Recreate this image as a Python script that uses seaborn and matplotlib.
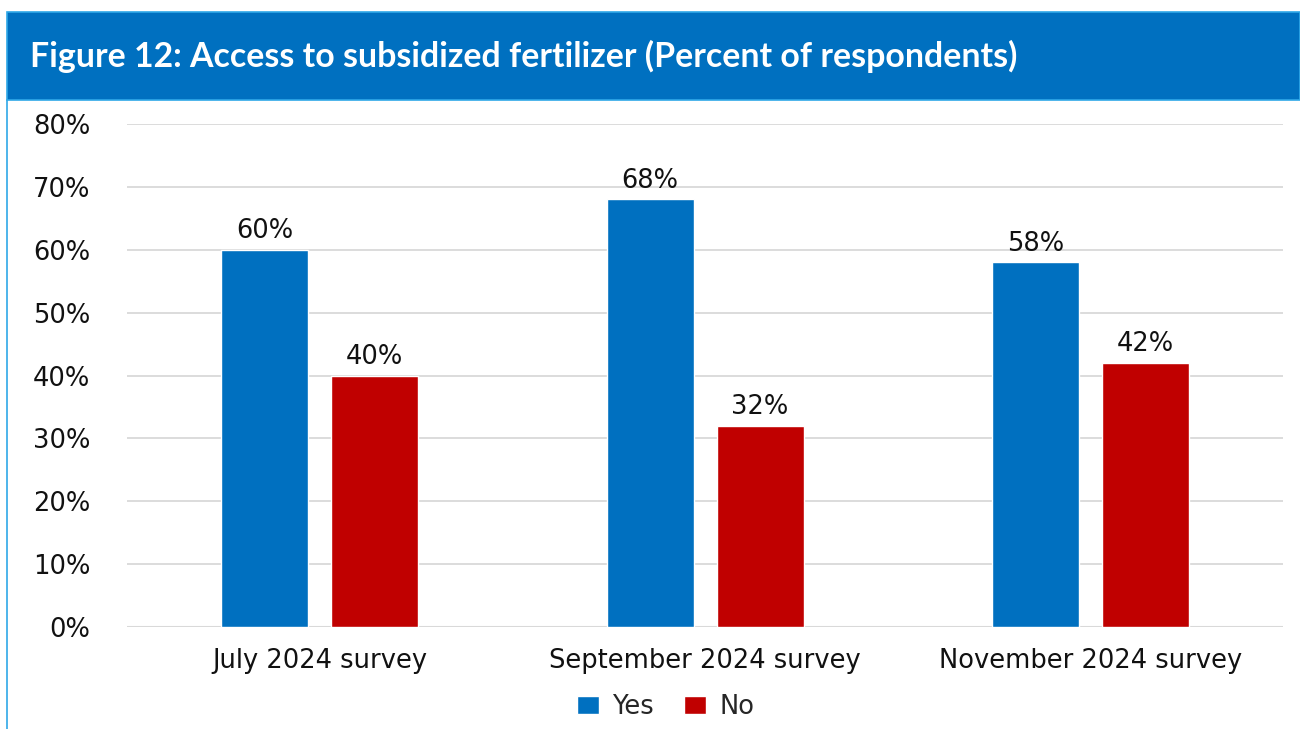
import matplotlib
matplotlib.use("Agg")
import matplotlib.pyplot as plt
from matplotlib.patches import Rectangle
from matplotlib.lines import Line2D
import seaborn as sns
import pandas as pd

surveys = ["July 2024 survey", "September 2024 survey", "November 2024 survey"]
yes_pct = [60, 68, 58]
no_pct = [40, 32, 42]
responses = ["Yes", "No"]
y_ticks = [0, 10, 20, 30, 40, 50, 60, 70, 80]
title_text = "Figure 12: Access to subsidized fertilizer (Percent of respondents)"

BLUE = "#0070C0"
RED = "#C00000"
FS = 18.5

df = pd.DataFrame({
    "survey": surveys * 2,
    "response": ["Yes"] * len(surveys) + ["No"] * len(surveys),
    "pct": yes_pct + no_pct,
})

sns.set_theme(style="white")
plt.rcParams["font.family"] = ["DejaVu Sans"]

fig = plt.figure(figsize=(13, 7.29), dpi=100)
ax = fig.add_axes([0.0977, 0.1399, 0.8893, 0.69])

sns.barplot(data=df, x="survey", y="pct", hue="response", hue_order=responses,
            order=surveys, palette={"Yes": BLUE, "No": RED},
            width=0.571, gap=0.21, saturation=1, ax=ax, legend=False,
            errorbar=None)

ax.set_ylim(0, 80)
ax.set_xlim(-0.5, 2.5)
ax.set_yticks(y_ticks)
ax.set_yticklabels([f"{t}%" for t in y_ticks], fontsize=FS, color="#111111")
ax.tick_params(axis="y", pad=26.5, length=0)
ax.tick_params(axis="x", pad=15, length=0, labelsize=FS, labelcolor="#111111")
ax.set_xlabel("")
ax.set_ylabel("")
ax.grid(axis="y", color="#d9d9d9", linewidth=1.3)
ax.set_axisbelow(True)
for s in ax.spines.values():
    s.set_visible(False)
ax.axhline(0, color="#d9d9d9", linewidth=1.5, zorder=0.5)

for cont in ax.containers:
    ax.bar_label(cont, labels=[f"{v:.0f}%" for v in cont.datavalues],
                 padding=4, fontsize=FS, color="#111111")

# title band
band = Rectangle((7 / 1300, 1 - 100 / 729), 1 - 7 / 1300, 88 / 729,
                 transform=fig.transFigure, facecolor="#0070C0",
                 edgecolor="#2fa8e8", linewidth=1.2, zorder=0)
fig.patches.append(band)
fig.add_artist(Line2D([7 / 1300, 7 / 1300], [0, 1 - 100 / 729],
                      transform=fig.transFigure, color="#2fa8e8", linewidth=1.2))
fig.text(30 / 1300, 1 - 56 / 729, title_text, color="white", fontsize=24.4,
         fontweight="bold", family="Lato", va="center", ha="left")

handles = [Rectangle((0, 0), 1, 1, facecolor=BLUE),
           Rectangle((0, 0), 1, 1, facecolor=RED)]
fig.legend(handles, responses, loc="center", bbox_to_anchor=(0.512, 1 - 707 / 729),
           ncol=2, frameon=False, fontsize=FS, handlelength=0.85, handleheight=0.7,
           handletextpad=0.5, columnspacing=1.2)

fig.savefig("out.png", dpi=100)
